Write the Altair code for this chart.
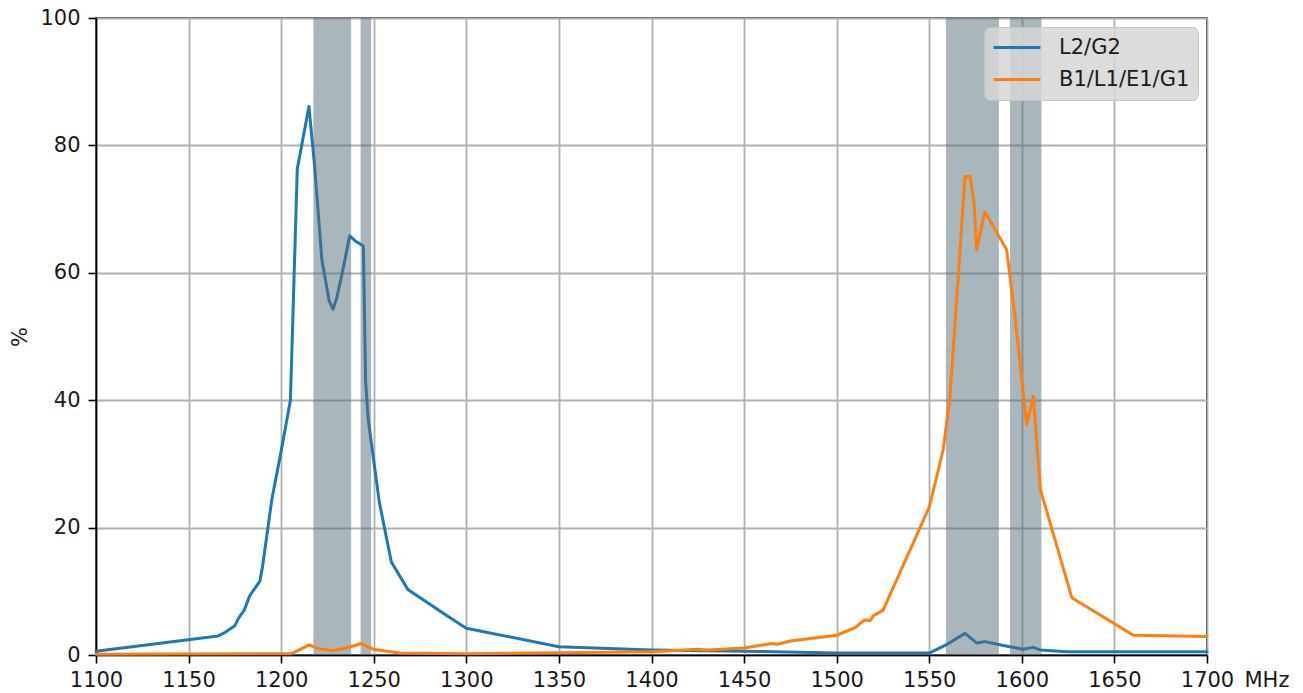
import altair as alt
import pandas as pd

# ---- data ----
series_names = ["L2/G2", "B1/L1/E1/G1"]
series_colors = ["#1f77b4", "#ff7f0e"]

l2_mhz = [1100, 1166, 1170, 1175, 1177, 1180, 1183, 1188.5, 1190, 1195, 1200, 1205,
          1208.7, 1215, 1218, 1222, 1226, 1228, 1230, 1233, 1237, 1240, 1244.4,
          1245.6, 1247, 1250, 1253, 1259.5, 1268.4, 1291, 1300, 1350, 1400, 1450,
          1500, 1550, 1558.5, 1569.3, 1575.6, 1580, 1590, 1600.7, 1606, 1610,
          1624, 1700]
l2_pct = [0.6, 3.0, 3.6, 4.6, 5.8, 7.0, 9.3, 11.6, 14.0, 24.5, 32.0, 40.0,
          76.3, 86.1, 77.0, 62.0, 55.5, 54.3, 56.0, 60.0, 65.8, 65.0, 64.2,
          43.0, 37.0, 30.5, 24.0, 14.6, 10.3, 5.9, 4.2, 1.3, 0.8, 0.6,
          0.3, 0.3, 1.5, 3.4, 1.9, 2.1, 1.5, 0.9, 1.2, 0.8,
          0.5, 0.5]

l1_mhz = [1100, 1205, 1207, 1215.2, 1220, 1228, 1235, 1243.5, 1249.7, 1264, 1300,
          1400, 1425, 1430, 1450, 1465, 1468, 1475, 1500, 1510, 1515, 1518, 1520,
          1525, 1550, 1557.6, 1561.2, 1565.7, 1569.3, 1572, 1574.2, 1575.6, 1580,
          1591.8, 1596.3, 1602.6, 1606.2, 1608, 1610, 1627, 1660.2, 1700]
l1_pct = [0.1, 0.2, 0.4, 1.6, 1.0, 0.7, 1.1, 1.8, 0.9, 0.3, 0.2,
          0.5, 0.9, 0.8, 1.1, 1.8, 1.7, 2.2, 3.1, 4.3, 5.5, 5.4, 6.2,
          7.0, 23.2, 32.3, 40.6, 59.5, 75.1, 75.1, 71.0, 63.6, 69.6,
          63.6, 53.2, 36.2, 40.6, 33.4, 26.0, 9.0, 3.1, 2.9]

band_start = [1217.4, 1242.9, 1559.0, 1593.6]
band_end = [1237.8, 1248.6, 1587.6, 1610.6]

x_ticks = list(range(1100, 1701, 50))
y_ticks = list(range(0, 101, 20))

# ---- tables ----
df_l2 = pd.DataFrame({"mhz": l2_mhz, "pct": l2_pct, "series": series_names[0]})
df_l1 = pd.DataFrame({"mhz": l1_mhz, "pct": l1_pct, "series": series_names[1]})
df_bands = pd.DataFrame({"start": band_start, "end": band_end})

W, H = 1111, 637
FONT = "DejaVu Sans"

x_scale = alt.Scale(domain=[1100, 1700], nice=False, zero=False)
y_scale = alt.Scale(domain=[0, 100], nice=False)
color_scale = alt.Scale(domain=series_names, range=series_colors)

x_axis = alt.Axis(values=x_ticks, title="MHz", titleX=1148, titleY=31,
                  titleAlign="left", titleBaseline="alphabetic", titleAngle=0,
                  labelPadding=6, format="d")
y_axis = alt.Axis(values=y_ticks, title="%", titleX=-76, titleY=H / 2,
                  titleAngle=-90, titleAlign="center", titleBaseline="middle",
                  labelPadding=8, format="d")

legend = alt.Legend(orient="top-right", offset=9, title=None,
                    symbolType="stroke", symbolSize=2200, symbolStrokeWidth=3,
                    labelFontSize=21, labelFont=FONT, labelColor="#1a1a1a",
                    fillColor="rgba(214,214,214,0.85)", strokeColor="#c4c4c4",
                    cornerRadius=6, padding=8, clipHeight=25, rowPadding=7,
                    labelOffset=17)

line_l2 = alt.Chart(df_l2).mark_line(strokeWidth=3, strokeJoin="round", strokeCap="round").encode(
    x=alt.X("mhz:Q", scale=x_scale, axis=x_axis),
    y=alt.Y("pct:Q", scale=y_scale, axis=y_axis),
    color=alt.Color("series:N", scale=color_scale, legend=legend),
)

bands = alt.Chart(df_bands).mark_rect(color="#546e7a", opacity=0.5).encode(
    x=alt.X("start:Q", scale=x_scale),
    x2="end:Q",
)

line_l1 = alt.Chart(df_l1).mark_line(strokeWidth=3, strokeJoin="round", strokeCap="round").encode(
    x=alt.X("mhz:Q", scale=x_scale),
    y=alt.Y("pct:Q", scale=y_scale),
    color=alt.Color("series:N", scale=color_scale, legend=legend),
)

chart = alt.layer(line_l2, bands, line_l1).properties(
    width=W, height=H,
    background="white",
    autosize=alt.AutoSizeParams(type="none"),
    padding={"left": 88, "top": 10, "right": 88, "bottom": 36},
).configure_view(
    stroke="black", strokeWidth=1.6
).configure_axis(
    grid=True, gridColor="#b0b0b0", gridWidth=1.8,
    domainColor="black", domainWidth=1.6,
    tickColor="black", tickSize=8, tickWidth=1.6,
    labelFont=FONT, labelFontSize=21, labelColor="#1a1a1a",
    titleFont=FONT, titleFontSize=21, titleFontWeight="normal", titleColor="#1a1a1a",
    labelFlush=False,
)

chart.save("out.html", embed_options={"renderer": "svg", "actions": False})
